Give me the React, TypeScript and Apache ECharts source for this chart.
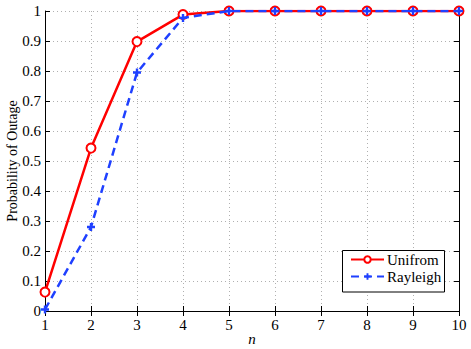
import React, { useEffect, useRef } from "react";
import * as echarts from "echarts";

const categories = [1, 2, 3, 4, 5, 6, 7, 8, 9, 10];
const uniformValues = [0.063, 0.543, 0.898, 0.988, 1, 1, 1, 1, 1, 1];
const rayleighValues = [0.005, 0.28, 0.795, 0.977, 1, 1, 1, 1, 1, 1];
const seriesNames = ["Unifrom", "Rayleigh"];

const FONT = "Liberation Serif";
const PLUS = "path://M3.5,0 L6.5,0 L6.5,3.5 L10,3.5 L10,6.5 L6.5,6.5 L6.5,10 L3.5,10 L3.5,6.5 L0,6.5 L0,3.5 L3.5,3.5 Z";

export default function App() {
  const ref = useRef<HTMLDivElement>(null);
  useEffect(() => {
    if (!ref.current) return;
    const chart = echarts.init(ref.current, null, { renderer: "svg" });
    const axisLine = { show: true, lineStyle: { color: "#000", width: 1 } };
    const tick = { show: true, inside: true, length: 5, lineStyle: { color: "#000" } };
    const split = { show: true, lineStyle: { color: "#b0b0b0", type: [1, 3] as any, width: 1 } };
    const label = { color: "#000", fontFamily: FONT, fontSize: 15 };
    chart.setOption({
      animation: false,
      backgroundColor: "#fff",
      textStyle: { fontFamily: FONT, color: "#000" },
      grid: { left: 45, right: 12, top: 11, bottom: 38, containLabel: false, outerBoundsMode: "none" },
      xAxis: [
        {
          type: "value", min: 1, max: 10, interval: 1, position: "bottom",
          axisLine, axisTick: tick, splitLine: split,
          axisLabel: { ...label, margin: 6 },
          name: "n", nameLocation: "middle", nameGap: 20, nameMoveOverlap: false,
          nameTextStyle: { color: "#000", fontFamily: FONT, fontSize: 15, fontStyle: "italic" },
        },
        {
          type: "value", min: 1, max: 10, interval: 1, position: "top",
          axisLine, axisTick: tick, splitLine: { show: false }, axisLabel: { show: false },
        },
      ],
      yAxis: [
        {
          type: "value", min: 0, max: 1, interval: 0.1, position: "left",
          axisLine, axisTick: tick, splitLine: split,
          axisLabel: { ...label, margin: 4, formatter: (v: number) => String(Math.round(v * 10) / 10) },
          name: "Probability of Outage", nameLocation: "middle", nameGap: 26, nameMoveOverlap: false,
          nameTextStyle: { color: "#000", fontFamily: FONT, fontSize: 14 },
        },
        {
          type: "value", min: 0, max: 1, interval: 0.1, position: "right",
          axisLine, axisTick: tick, splitLine: { show: false }, axisLabel: { show: false },
        },
      ],
      graphic: [
        {
          type: "rect", z: 20, zlevel: 0,
          shape: { x: 342.5, y: 250.5, width: 102, height: 41.5 },
          style: { fill: "#fff", stroke: "#000", lineWidth: 1 },
        },
      ],
      legend: {
        orient: "vertical", left: 350, top: 252, z: 30,
        padding: 0, itemGap: 2, itemWidth: 33, itemHeight: 8,
        textStyle: { color: "#000", fontFamily: FONT, fontSize: 15, padding: [0, 0, 0, -2] },
        data: seriesNames,
      },
      series: [
        {
          name: seriesNames[0], type: "line", data: categories.map((c, i) => [c, uniformValues[i]]),
          xAxisIndex: 0, yAxisIndex: 0,
          lineStyle: { color: "#ff0000", width: 2.5 },
          itemStyle: { color: "#fff", borderColor: "#ff0000", borderWidth: 2 },
          symbol: "circle", symbolSize: 9, showSymbol: true, z: 3,
        },
        {
          name: seriesNames[1], type: "line", data: categories.map((c, i) => [c, rayleighValues[i]]),
          xAxisIndex: 0, yAxisIndex: 0,
          lineStyle: { color: "#1f40ff", width: 2.5, type: [8, 5] as any },
          itemStyle: { color: "#1f40ff", borderWidth: 0 },
          symbol: PLUS, symbolSize: 8, showSymbol: true, z: 4,
        },
      ],
    });
    return () => chart.dispose();
  }, []);
  return <div ref={ref} style={{ width: 471, height: 349, position: "absolute", left: 0, top: 0 }} />;
}
